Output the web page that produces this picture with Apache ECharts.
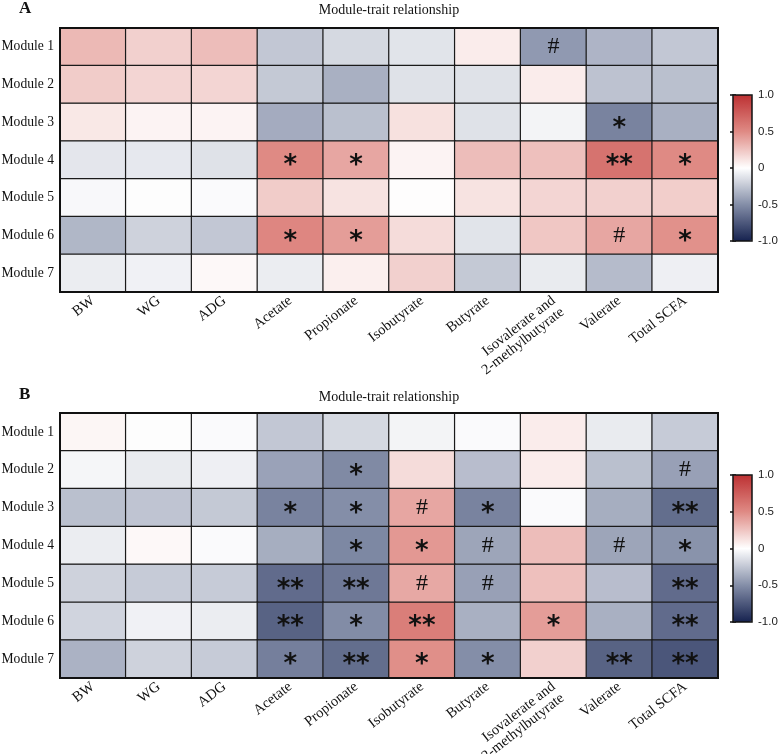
<!DOCTYPE html>
<html>
<head>
<meta charset="utf-8">
<script src="https://cdn.jsdelivr.net/npm/echarts@6/dist/echarts.min.js"></script>
<style>html,body{margin:0;padding:0;background:#fff}#c{width:778px;height:754px}</style>
</head>
<body>
<div id="c"></div>
<script>
var traits = ['BW','WG','ADG','Acetate','Propionate','Isobutyrate','Butyrate','Isovalerate and\n2-methylbutyrate','Valerate','Total SCFA'];
var modules = ['Module 1','Module 2','Module 3','Module 4','Module 5','Module 6','Module 7'];
var cbTickLabels = ['-1.0','-0.5','0','0.5','1.0'];

var valuesA = [
  [0.30, 0.20, 0.28, -0.25, -0.17, -0.12, 0.08, -0.45, -0.33, -0.25],
  [0.22, 0.18, 0.18, -0.24, -0.35, -0.13, -0.13, 0.08, -0.27, -0.28],
  [0.10, 0.05, 0.05, -0.37, -0.28, 0.13, -0.13, -0.05, -0.55, -0.35],
  [-0.11, -0.10, -0.13, 0.50, 0.38, 0.05, 0.28, 0.27, 0.63, 0.50],
  [-0.03, -0.01, -0.02, 0.22, 0.12, 0.01, 0.12, 0.18, 0.20, 0.21],
  [-0.32, -0.20, -0.25, 0.52, 0.42, 0.15, -0.12, 0.24, 0.38, 0.47],
  [-0.08, -0.06, 0.03, -0.08, 0.07, 0.20, -0.24, -0.09, -0.30, -0.07]
];
var sigA = [
  ['','','','','','','','#','',''],
  ['','','','','','','','','',''],
  ['','','','','','','','','*',''],
  ['','','','*','*','','','','**','*'],
  ['','','','','','','','','',''],
  ['','','','*','*','','','','#','*'],
  ['','','','','','','','','','']
];
var valuesB = [
  [0.04, -0.01, -0.02, -0.25, -0.17, -0.05, -0.02, 0.08, -0.09, -0.23],
  [-0.04, -0.09, -0.07, -0.41, -0.52, 0.15, -0.29, 0.08, -0.28, -0.42],
  [-0.28, -0.26, -0.24, -0.55, -0.50, 0.38, -0.55, -0.02, -0.36, -0.65],
  [-0.08, 0.03, -0.02, -0.36, -0.53, 0.44, -0.40, 0.28, -0.40, -0.48],
  [-0.20, -0.23, -0.23, -0.66, -0.60, 0.37, -0.42, 0.27, -0.29, -0.66],
  [-0.19, -0.06, -0.08, -0.70, -0.51, 0.57, -0.35, 0.42, -0.35, -0.66],
  [-0.34, -0.20, -0.23, -0.57, -0.65, 0.48, -0.50, 0.20, -0.70, -0.76]
];
var sigB = [
  ['','','','','','','','','',''],
  ['','','','','*','','','','','#'],
  ['','','','*','*','#','*','','','**'],
  ['','','','','*','*','#','','#','*'],
  ['','','','**','**','#','#','','','**'],
  ['','','','**','*','**','','*','','**'],
  ['','','','*','**','*','*','','**','**']
];

var colorStops = ['#16224f','#848ea8','#ffffff','#df8a84','#bd3133'];

function toData(vals){
  var d = [];
  for (var r = 0; r < vals.length; r++)
    for (var c = 0; c < vals[r].length; c++) d.push([c, r, vals[r][c]]);
  return d;
}
function labelFmt(sig){
  return function(p){
    var s = sig[p.value[1]][p.value[0]];
    if (!s) return '';
    return s === '#' ? '{h|#}' : '{a|' + s + '}';
  };
}
var serif = '"Liberation Serif", "Times New Roman", serif';
var richStyle = {
  a: {fontFamily: '"DejaVu Sans", sans-serif', fontSize: 26, fontWeight: 'bold', color: '#111', padding: [13,0,0,0]},
  h: {fontFamily: serif, fontSize: 24, color: '#111'}
};

function heatGrid(top, height){
  return {left: 60, top: top, width: 658, height: height, show: true, borderColor: '#111', borderWidth: 2, z: 3,
    backgroundColor: 'transparent', outerBoundsMode: 'none', containLabel: false};
}
function xCat(gi){
  return {type: 'category', gridIndex: gi, data: traits, position: 'bottom',
    axisLine: {show: false}, axisTick: {show: false}, splitLine: {show: false},
    axisLabel: {rotate: 38, interval: 0, margin: 7, fontFamily: serif, fontSize: 14.5, color: '#111', lineHeight: 14.5,
      formatter: function(v){ return v.indexOf('\n') >= 0 ? '\n' + v : v; }}};
}
function yCat(gi){
  return {type: 'category', gridIndex: gi, data: modules, inverse: true,
    axisLine: {show: false}, axisTick: {show: false}, splitLine: {show: false},
    axisLabel: {margin: 6, fontFamily: serif, fontSize: 13.6, color: '#111'}};
}
function cbAxis(gi, pos, showLabel){
  return {type: 'value', gridIndex: gi, min: -1, max: 1, interval: 0.5, position: pos,
    axisLine: {show: false}, splitLine: {show: false},
    axisTick: {show: true, inside: true, length: 3, lineStyle: {color: '#111', width: 1.5}},
    axisLabel: {show: showLabel, margin: 6, fontFamily: '"Liberation Sans", Arial, sans-serif', fontSize: 11.5, color: '#222',
      formatter: function(v){ return cbTickLabels[Math.round((v + 1) / 0.5)]; }}};
}
function cbGrid(top, height){
  return {left: 733, top: top, width: 19, height: height, show: true, borderColor: '#111', borderWidth: 1.5, z: 10,
    backgroundColor: 'transparent', outerBoundsMode: 'none', containLabel: false};
}

var chart = echarts.init(document.getElementById('c'), null, {renderer: 'canvas'});
chart.setOption({
  animation: false,
  backgroundColor: '#fff',
  title: [
    {text: 'A', left: 19, top: 0, padding: 0, textStyle: {fontFamily: serif, fontSize: 17, fontWeight: 'bold', color: '#111'}},
    {text: 'Module-trait relationship', left: 'center', top: 3, padding: 0, textStyle: {fontFamily: serif, fontSize: 14, fontWeight: 'normal', color: '#111'}},
    {text: 'B', left: 19, top: 386, padding: 0, textStyle: {fontFamily: serif, fontSize: 17, fontWeight: 'bold', color: '#111'}},
    {text: 'Module-trait relationship', left: 'center', top: 390, padding: 0, textStyle: {fontFamily: serif, fontSize: 14, fontWeight: 'normal', color: '#111'}}
  ],
  grid: [heatGrid(28, 264), heatGrid(413, 265), cbGrid(95, 146), cbGrid(475, 147)],
  xAxis: [
    xCat(0), xCat(1),
    {type: 'value', gridIndex: 2, show: false}, {type: 'value', gridIndex: 3, show: false}
  ],
  yAxis: [
    yCat(0), yCat(1),
    cbAxis(2, 'right', true), cbAxis(2, 'left', false),
    cbAxis(3, 'right', true), cbAxis(3, 'left', false)
  ],
  visualMap: [
    {type: 'continuous', seriesIndex: 0, dimension: 2, min: -1, max: 1, calculable: false, hoverLink: false,
     left: 733, top: 95, itemWidth: 19, itemHeight: 146, padding: 0, text: null, showLabel: false,
     inRange: {color: colorStops}},
    {type: 'continuous', seriesIndex: 1, dimension: 2, min: -1, max: 1, calculable: false, hoverLink: false,
     left: 733, top: 475, itemWidth: 19, itemHeight: 147, padding: 0, text: null, showLabel: false,
     inRange: {color: colorStops}}
  ],
  series: [
    {type: 'heatmap', xAxisIndex: 0, yAxisIndex: 0, data: toData(valuesA),
     itemStyle: {borderColor: '#1a1a1a', borderWidth: 1.2},
     emphasis: {disabled: true},
     label: {show: true, formatter: labelFmt(sigA), rich: richStyle}},
    {type: 'heatmap', xAxisIndex: 1, yAxisIndex: 1, data: toData(valuesB),
     itemStyle: {borderColor: '#1a1a1a', borderWidth: 1.2},
     emphasis: {disabled: true},
     label: {show: true, formatter: labelFmt(sigB), rich: richStyle}}
  ]
});
</script>
</body>
</html>
